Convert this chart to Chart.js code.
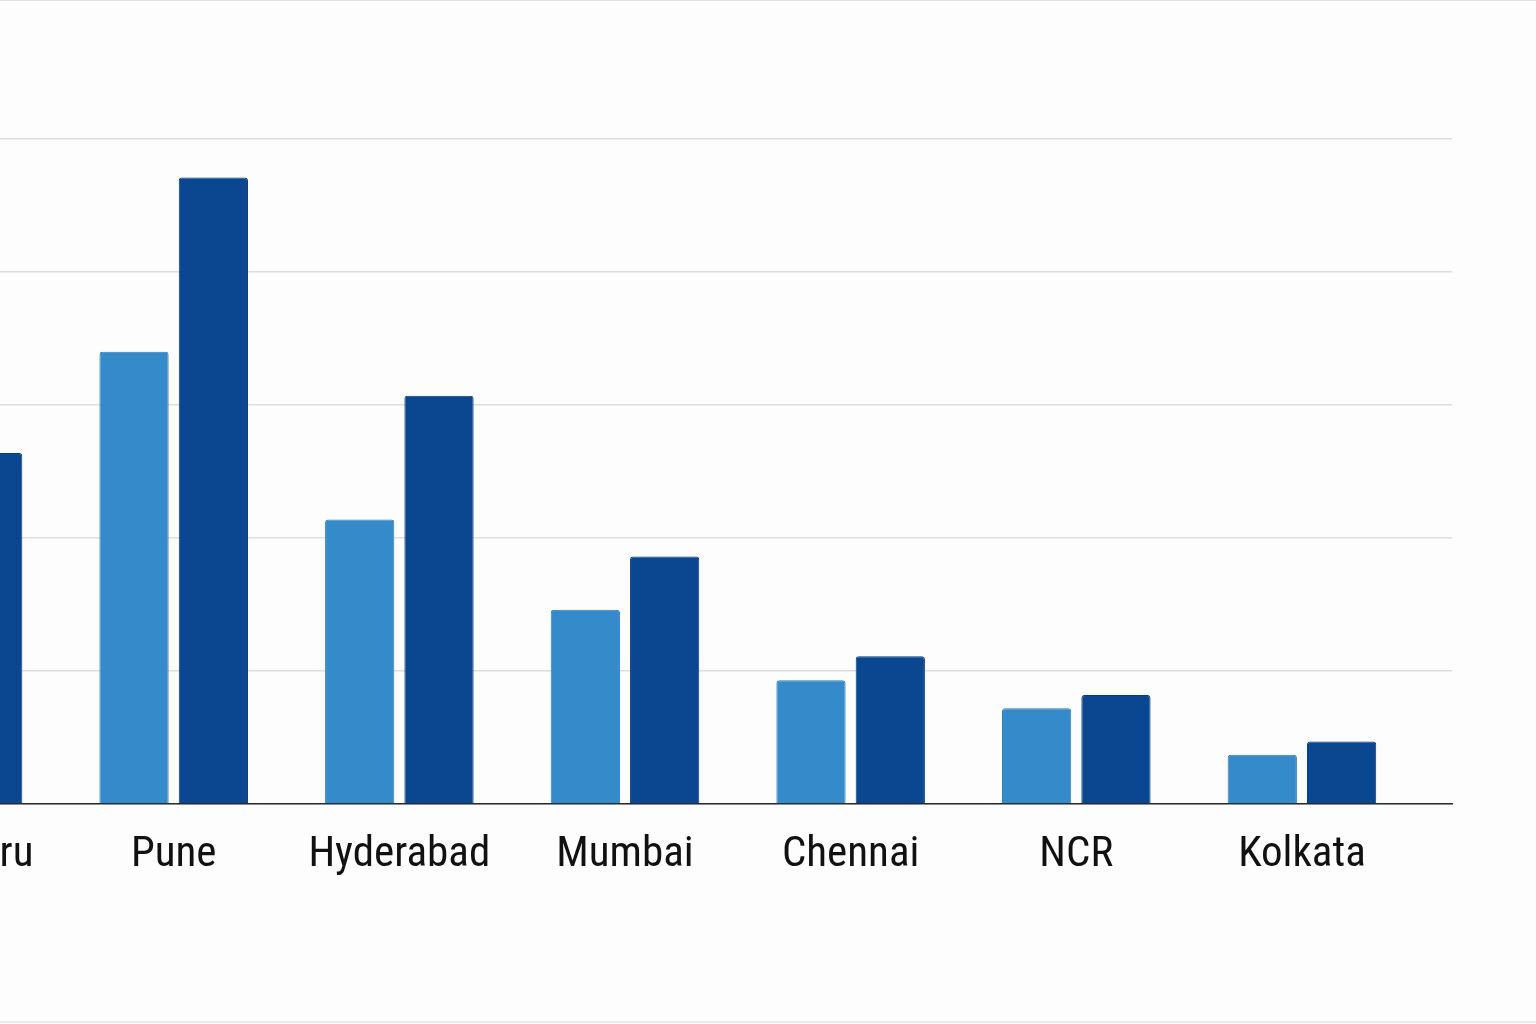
<!DOCTYPE html>
<html>
<head>
<meta charset="utf-8">
<script src="https://cdn.jsdelivr.net/npm/chart.js@4.4.1/dist/chart.umd.min.js"></script>
<style>
  html, body {
    margin: 0;
    padding: 0;
    width: 1536px;
    height: 1024px;
    overflow: hidden;
    background: #fdfdfd;
  }
  #wrap {
    position: relative;
    width: 1536px;
    height: 1024px;
    overflow: hidden;
  }
  /* the chart is wider than the page, its left end is cut off */
  #chart {
    position: absolute;
    left: -300px;
    top: 0;
  }
  #frame {
    position: absolute;
    left: 0;
    top: 0;
    width: 1536px;
    height: 1020px;
    border-top: 1px solid #e2e2e2;
    border-bottom: 2px solid #ececec;
    pointer-events: none;
  }
</style>
</head>
<body>
<div id="wrap">
  <canvas id="chart" width="1836" height="1024"></canvas>
  <div id="frame"></div>
</div>
<script>
const cities = ["Bengaluru", "Pune", "Hyderabad", "Mumbai", "Chennai", "NCR", "Kolkata"];
const earlierValues = [19.0, 34.0, 21.4, 14.6, 9.3, 7.2, 3.7];
const laterValues = [26.4, 47.1, 30.7, 18.6, 11.1, 8.2, 4.7];
const yTicks = [0, 10, 20, 30, 40, 50];

const lightBlue = "#358bca";
const darkBlue = "#0a4790";

function toPoints(values) {
  return values.map((v, i) => ({ x: i, y: v }));
}

const ctx = document.getElementById("chart").getContext("2d");

const chart = new Chart(ctx, {
  type: "bar",
  data: {
    datasets: [
      {
        label: "Earlier",
        data: toPoints(earlierValues),
        backgroundColor: lightBlue,
        borderColor: "#2c7dbf",
        borderWidth: 1,
        borderRadius: 3,
        borderSkipped: "bottom",
      },
      {
        label: "Later",
        data: toPoints(laterValues),
        backgroundColor: darkBlue,
        borderColor: "#073b82",
        borderWidth: 1,
        borderRadius: 3,
        borderSkipped: "bottom",
      },
    ],
  },
  options: {
    responsive: false,
    animation: false,
    categoryPercentage: 0.703,
    barPercentage: 0.873,
    layout: {
      padding: { left: 98, right: 84, top: 139, bottom: 145 },
    },
    plugins: {
      legend: { display: false },
      tooltip: { enabled: false },
    },
    scales: {
      x: {
        type: "linear",
        offset: false,
        min: -0.665,
        max: cities.length - 1 + 0.665,
        grid: { display: false, drawTicks: false, offset: false },
        border: { display: true, color: "#2a2a2a", width: 1.5 },
        ticks: {
          stepSize: 1,
          includeBounds: false,
          autoSkip: false,
          maxRotation: 0,
          padding: 25,
          color: "#111111",
          font: { family: "'Roboto Condensed', Roboto, sans-serif", size: 43 },
          callback: (value) => (Number.isInteger(value) ? cities[value] : ""),
        },
        // keep the plot area where the reference has it
        afterFit: (scale) => {
          scale.height = 75;
          scale.paddingLeft = 0;
          scale.paddingRight = 0;
        },
      },
      y: {
        min: yTicks[0],
        max: yTicks[yTicks.length - 1],
        grid: { color: "#dedede", lineWidth: 1.5, drawTicks: false },
        border: { display: false },
        ticks: { display: false, stepSize: 10 },
      },
    },
  },
});
</script>
</body>
</html>
